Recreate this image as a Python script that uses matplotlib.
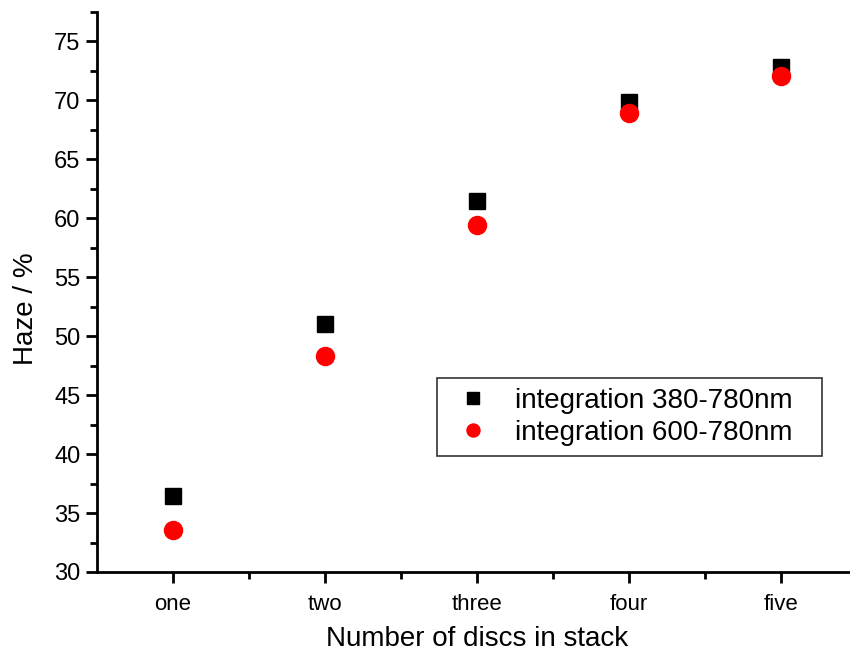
import matplotlib
matplotlib.use("Agg")
import matplotlib.pyplot as plt
from matplotlib.ticker import MultipleLocator, FixedLocator

plt.rcParams['font.family'] = ['Liberation Sans', 'DejaVu Sans']

categories = ["one", "two", "three", "four", "five"]
haze_380_780 = [36.45, 51.0, 61.5, 69.9, 72.8]
haze_600_780 = [33.6, 48.3, 59.4, 68.9, 72.1]
label_380 = "integration 380-780nm"
label_600 = "integration 600-780nm"

fig = plt.figure(figsize=(8.5, 6.55), dpi=100)
ax = fig.add_axes([97/850, 83/655, 760/850, 560/655])

x = list(range(1, len(categories) + 1))
ax.plot(x, haze_380_780, linestyle='none', marker='s', markersize=11.5,
        color='black', label=label_380)
ax.plot(x, haze_600_780, linestyle='none', marker='o', markersize=13,
        color='red', label=label_600)

ax.set_xlim(0.5, 5.5)
ax.set_ylim(30, 77.5)
ax.set_xticks(x)
ax.set_xticklabels(categories)
ax.xaxis.set_minor_locator(FixedLocator([1.5, 2.5, 3.5, 4.5]))
ax.yaxis.set_major_locator(MultipleLocator(5))
ax.yaxis.set_minor_locator(MultipleLocator(2.5))

for s in ['top', 'right']:
    ax.spines[s].set_visible(False)
for s in ['left', 'bottom']:
    ax.spines[s].set_linewidth(2)

ax.tick_params(axis='both', which='major', direction='out', length=8, width=2, pad=4)
ax.tick_params(axis='both', which='minor', direction='out', length=5, width=2)
ax.tick_params(axis='x', which='major', pad=8, labelsize=16)
ax.tick_params(axis='y', which='major', labelsize=17)

ax.set_xlabel("Number of discs in stack", fontsize=20, labelpad=8)
ax.set_ylabel("Haze / %", fontsize=20, labelpad=11, y=0.471)

leg = ax.legend(loc='upper left',
                bbox_to_anchor=((437-97)/760, (572-452)/560, 385/760, 74/560),
                mode='expand',
                fontsize=20, frameon=True, fancybox=False, markerscale=0.72,
                handlelength=1.9, handletextpad=0.55, borderpad=0.35,
                labelspacing=0.22, borderaxespad=0)
leg.get_frame().set_edgecolor('black')
leg.get_frame().set_linewidth(1.2)

fig.savefig("out.png", dpi=100)
